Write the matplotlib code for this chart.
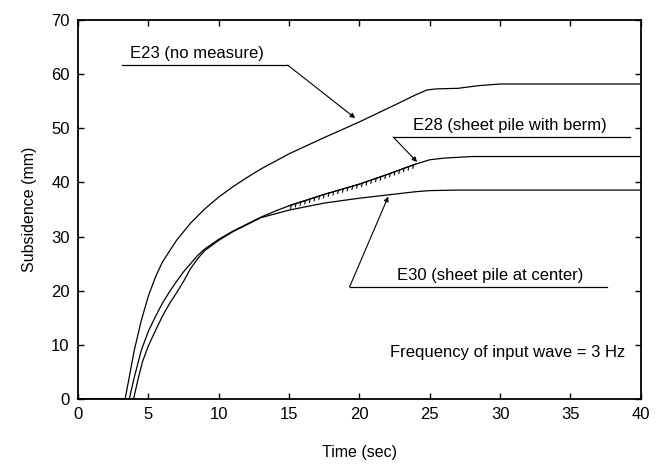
import matplotlib.pyplot as plt
import matplotlib.patheffects as pe

plt.rcParams['font.family'] = ['Liberation Sans', 'DejaVu Sans']

# subsidence histories (time in sec, subsidence in mm)
t_e23 = [0, 3.35, 3.7, 4.0, 4.5, 5.0, 5.5, 6.0, 7.0, 8.0, 9.0, 10.0, 11.0,
         12.0, 13.0, 15.0, 17.5, 20.0, 22.5, 24.0, 24.8, 25.5, 27.0, 28.5,
         30.0, 40]
s_e23 = [0, 0, 4.8, 9.0, 14.5, 19.0, 22.5, 25.3, 29.3, 32.5, 35.1, 37.3, 39.2,
         40.9, 42.5, 45.3, 48.3, 51.2, 54.3, 56.2, 57.1, 57.3, 57.4, 57.9,
         58.2, 58.2]

t_e28 = [0, 3.65, 4.0, 4.5, 5.0, 5.5, 6.0, 6.5, 7.0, 7.5, 8.0, 8.5, 9.0,
         10.0, 11.0, 12.0, 13.0, 14.0, 15.0, 17.5, 20.0, 22.0, 24.0, 25.0,
         26.0, 28.0, 40]
s_e28 = [0, 0, 4.0, 9.0, 12.5, 15.2, 17.7, 19.8, 21.7, 23.5, 25.0, 26.5, 27.7,
         29.5, 31.0, 32.3, 33.6, 34.7, 35.7, 37.8, 39.7, 41.5, 43.4, 44.2,
         44.5, 44.8, 44.8]

t_e30 = [0, 3.95, 4.3, 4.6, 5.0, 5.5, 6.0, 6.5, 7.0, 7.5, 8.0, 8.5, 9.0,
         10.0, 11.0, 12.0, 13.0, 14.0, 15.0, 17.5, 20.0, 22.0, 24.0, 25.0,
         27.0, 40]
s_e30 = [0, 0, 4.0, 7.0, 9.8, 12.6, 15.3, 17.6, 19.6, 21.7, 24.1, 25.9, 27.4,
         29.3, 30.9, 32.2, 33.5, 34.2, 34.9, 36.2, 37.1, 37.7, 38.3, 38.5,
         38.6, 38.6]

xticks = [0, 5, 10, 15, 20, 25, 30, 35, 40]
yticks = [0, 10, 20, 30, 40, 50, 60, 70]

fig = plt.figure(figsize=(6.63, 4.66), dpi=100)
ax = fig.add_axes([0.1176, 0.1438, 0.849, 0.813])

for t, s in [(t_e23, s_e23), (t_e28, s_e28), (t_e30, s_e30)]:
    ax.plot(t, s, color='black', lw=0.9)

# the E28 trace is serrated over the later shaking
i0, i1 = t_e28.index(15.0), t_e28.index(24.0) + 1
ax.plot(t_e28[i0:i1], s_e28[i0:i1], color='black', lw=0.8,
        path_effects=[pe.withTickedStroke(spacing=3.5, angle=-120, length=0.7,
                                          linewidth=0.8)])

ax.set_xlim(0, 40)
ax.set_ylim(0, 70)
ax.set_xticks(xticks)
ax.set_yticks(yticks)
ax.tick_params(direction='in', top=True, right=True, length=4, width=1,
               labelsize=12, pad=6)
for sp in ax.spines.values():
    sp.set_linewidth(1.3)

ax.set_xlabel('Time (sec)', fontsize=11.5, labelpad=16)
ax.set_ylabel('Subsidence (mm)', fontsize=11.5, labelpad=10)

arrow = dict(arrowstyle='-|>', color='black', lw=0.8, mutation_scale=7,
             shrinkA=0, shrinkB=0)

# leader lines: text sits on a horizontal rule, then a slanted arrow to the curve
labels = [
    ('E23 (no measure)', 3.1, 14.9, 61.7, 19.7, 51.9, 3.7, 14.9),
    ('E28 (sheet pile with berm)', 22.4, 39.2, 48.4, 24.1, 43.8, 23.8, 22.4),
    ('E30 (sheet pile at center)', 19.3, 37.6, 20.7, 22.05, 37.4, 22.7, 19.3),
]
for txt, x0, x1, y, xa, ya, xt, xs in labels:
    ax.plot([x0, x1], [y, y], color='black', lw=0.9)
    ax.annotate('', xy=(xa, ya), xytext=(xs, y), arrowprops=arrow)
    ax.text(xt, y + 0.8, txt, fontsize=12, ha='left', va='bottom')

ax.text(38.9, 8.5, 'Frequency of input wave = 3 Hz', fontsize=12,
        ha='right', va='center')

fig.savefig('out.png', dpi=100)
